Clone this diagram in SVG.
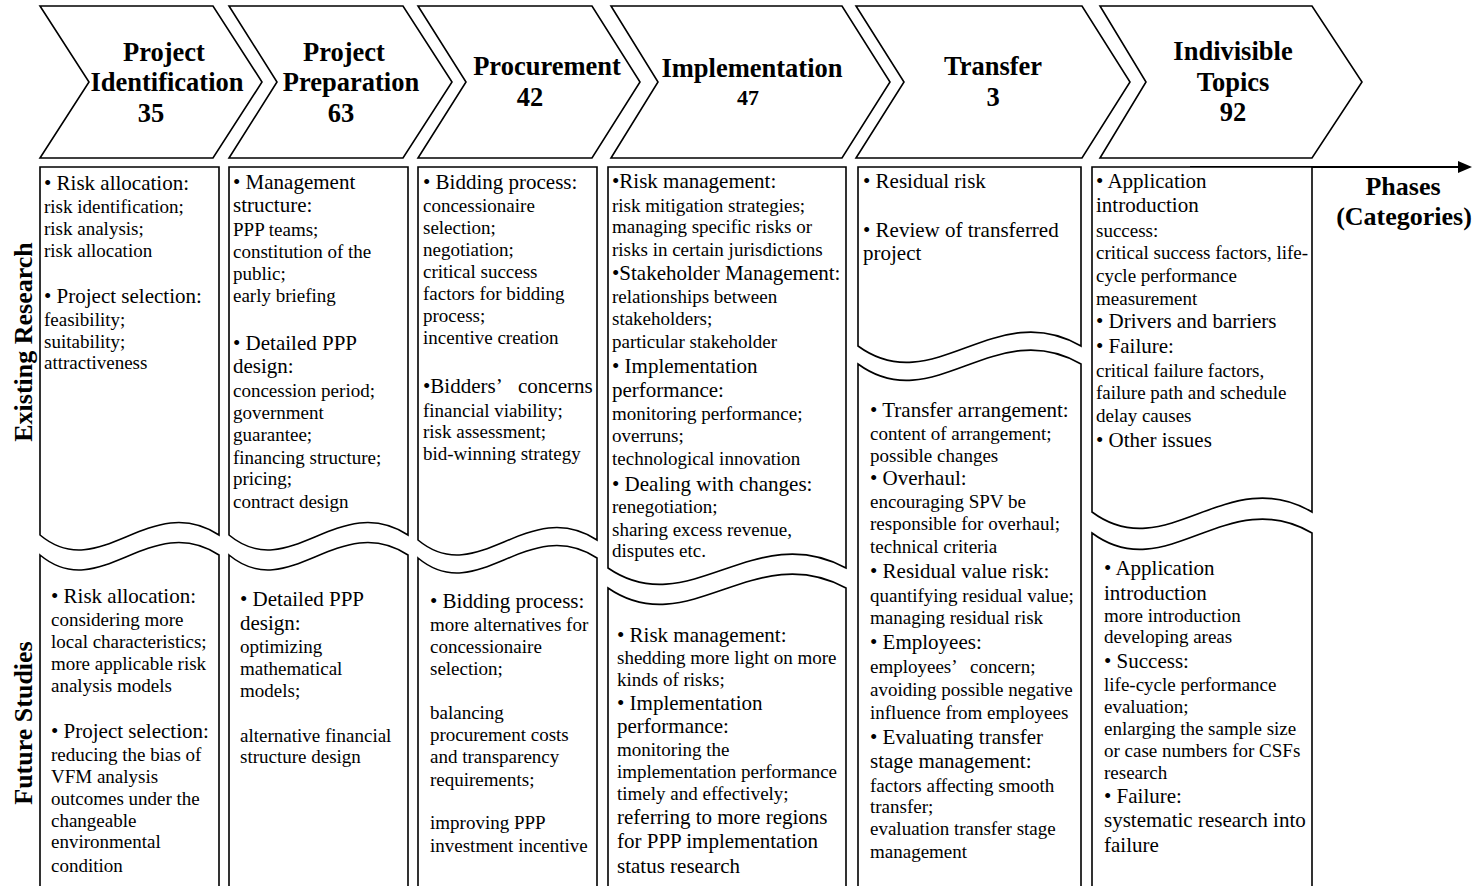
<svg xmlns="http://www.w3.org/2000/svg" width="1484" height="886" viewBox="0 0 1484 886">
<style>
text{font-family:"Liberation Serif","Times New Roman",serif;fill:#000}
.t{font-size:26.5px;font-weight:bold;text-anchor:middle}
.t2{font-size:22px;font-weight:bold;text-anchor:middle}
.lab{font-size:26px;font-weight:bold;text-anchor:middle}
.h{font-size:21px}
.s{font-size:19px}
.shape{fill:#fff;stroke:#000;stroke-width:1.6}
.conn{stroke:#000;stroke-width:2;fill:none}
</style>
<rect width="1484" height="886" fill="#fff"/>

<g id="phase-identification">
<path class="shape" d="M40,6 H213 L262,82 L213,158 H40 L89,82 Z"/>
<text class="t"><tspan x="164" y="61">Project</tspan><tspan x="167" y="91">Identification</tspan><tspan x="151" y="122">35</tspan></text>
</g>
<g id="phase-preparation">
<path class="shape" d="M229,6 H403 L452,82 L403,158 H229 L277,82 Z"/>
<text class="t"><tspan x="344" y="61">Project</tspan><tspan x="351" y="91">Preparation</tspan><tspan x="341" y="122">63</tspan></text>
</g>
<g id="phase-procurement">
<path class="shape" d="M418,6 H592 L640,82 L592,158 H418 L466,82 Z"/>
<text class="t"><tspan x="547" y="75">Procurement</tspan><tspan x="530" y="106">42</tspan></text>
</g>
<g id="phase-implementation">
<path class="shape" d="M611,6 H842 L890,82 L842,158 H611 L658,82 Z"/>
<text class="t" x="752" y="77">Implementation</text>
<text class="t2" x="748" y="105">47</text>
</g>
<g id="phase-transfer">
<path class="shape" d="M856,6 H1082 L1130,82 L1082,158 H856 L904,82 Z"/>
<text class="t"><tspan x="993" y="75">Transfer</tspan><tspan x="993" y="106">3</tspan></text>
</g>
<g id="phase-indivisible">
<path class="shape" d="M1100,6 H1312 L1362,82 L1312,158 H1100 L1146,82 Z"/>
<text class="t"><tspan x="1233" y="60">Indivisible</tspan><tspan x="1233" y="91">Topics</tspan><tspan x="1233" y="121">92</tspan></text>
</g>

<g id="row-labels">
<text class="lab" transform="translate(32,342) rotate(-90)">Existing Research</text>
<text class="lab" transform="translate(32,723) rotate(-90)">Future Studies</text>
</g>

<g id="connectors">
<line class="conn" x1="1190" y1="167" x2="1460" y2="167"/>
<polygon points="1458,161 1472,167 1458,173" fill="#000"/>
</g>
<g id="axis-label">
<text class="lab"><tspan x="1403" y="195">Phases</tspan><tspan x="1404" y="225">(Categories)</tspan></text>
</g>

<g id="existing-identification">
<path class="shape" d="M40,167 H219 V535 C150,490 100,585 40,535 Z"/>
<text>
<tspan class="h" x="44" y="190">• Risk allocation:</tspan>
<tspan class="s" x="44" y="213">risk identification;</tspan>
<tspan class="s" x="44" y="235">risk analysis;</tspan>
<tspan class="s" x="44" y="257">risk allocation</tspan>
<tspan class="h" x="44" y="303">• Project selection:</tspan>
<tspan class="s" x="44" y="326">feasibility;</tspan>
<tspan class="s" x="44" y="348">suitability;</tspan>
<tspan class="s" x="44" y="369">attractiveness</tspan>
</text>
</g>
<g id="future-identification">
<path class="shape" d="M40,890 V555 C100,605 150,510 219,555 V890"/>
<text>
<tspan class="h" x="51" y="603">• Risk allocation:</tspan>
<tspan class="s" x="51" y="626">considering more</tspan>
<tspan class="s" x="51" y="648">local characteristics;</tspan>
<tspan class="s" x="51" y="670">more applicable risk</tspan>
<tspan class="s" x="51" y="692">analysis models</tspan>
<tspan class="h" x="51" y="738">• Project selection:</tspan>
<tspan class="s" x="51" y="761">reducing the bias of</tspan>
<tspan class="s" x="51" y="783">VFM analysis</tspan>
<tspan class="s" x="51" y="805">outcomes under the</tspan>
<tspan class="s" x="51" y="827">changeable</tspan>
<tspan class="s" x="51" y="848">environmental</tspan>
<tspan class="s" x="51" y="872">condition</tspan>
</text>
</g>

<g id="existing-preparation">
<path class="shape" d="M229,167 H408 V535 C339,490 289,585 229,535 Z"/>
<text>
<tspan class="h" x="233" y="189">• Management</tspan>
<tspan class="h" x="233" y="212">structure:</tspan>
<tspan class="s" x="233" y="236">PPP teams;</tspan>
<tspan class="s" x="233" y="258">constitution of the</tspan>
<tspan class="s" x="233" y="280">public;</tspan>
<tspan class="s" x="233" y="302">early briefing</tspan>
<tspan class="h" x="233" y="350">• Detailed PPP</tspan>
<tspan class="h" x="233" y="373">design:</tspan>
<tspan class="s" x="233" y="397">concession period;</tspan>
<tspan class="s" x="233" y="419">government</tspan>
<tspan class="s" x="233" y="441">guarantee;</tspan>
<tspan class="s" x="233" y="464">financing structure;</tspan>
<tspan class="s" x="233" y="485">pricing;</tspan>
<tspan class="s" x="233" y="508">contract design</tspan>
</text>
</g>
<g id="future-preparation">
<path class="shape" d="M229,890 V555 C289,605 339,510 408,555 V890"/>
<text>
<tspan class="h" x="240" y="606">• Detailed PPP</tspan>
<tspan class="h" x="240" y="630">design:</tspan>
<tspan class="s" x="240" y="653">optimizing</tspan>
<tspan class="s" x="240" y="675">mathematical</tspan>
<tspan class="s" x="240" y="697">models;</tspan>
<tspan class="s" x="240" y="742">alternative financial</tspan>
<tspan class="s" x="240" y="763">structure design</tspan>
</text>
</g>

<g id="existing-procurement">
<path class="shape" d="M418,167 H597 V540 C528,495 478,590 418,540 Z"/>
<text>
<tspan class="h" x="423" y="189">• Bidding process:</tspan>
<tspan class="s" x="423" y="212">concessionaire</tspan>
<tspan class="s" x="423" y="234">selection;</tspan>
<tspan class="s" x="423" y="256">negotiation;</tspan>
<tspan class="s" x="423" y="278">critical success</tspan>
<tspan class="s" x="423" y="300">factors for bidding</tspan>
<tspan class="s" x="423" y="322">process;</tspan>
<tspan class="s" x="423" y="344">incentive creation</tspan>
<tspan class="h" x="423" y="393">•Bidders’</tspan><tspan class="h" x="518" y="393">concerns</tspan>
<tspan class="s" x="423" y="417">financial viability;</tspan>
<tspan class="s" x="423" y="438">risk assessment;</tspan>
<tspan class="s" x="423" y="460">bid-winning strategy</tspan>
</text>
</g>
<g id="future-procurement">
<path class="shape" d="M418,890 V558 C478,608 528,513 597,558 V890"/>
<text>
<tspan class="h" x="430" y="608">• Bidding process:</tspan>
<tspan class="s" x="430" y="631">more alternatives for</tspan>
<tspan class="s" x="430" y="653">concessionaire</tspan>
<tspan class="s" x="430" y="675">selection;</tspan>
<tspan class="s" x="430" y="719">balancing</tspan>
<tspan class="s" x="430" y="741">procurement costs</tspan>
<tspan class="s" x="430" y="763">and transparency</tspan>
<tspan class="s" x="430" y="786">requirements;</tspan>
<tspan class="s" x="430" y="829">improving PPP</tspan>
<tspan class="s" x="430" y="852">investment incentive</tspan>
</text>
</g>

<g id="existing-implementation">
<path class="shape" d="M608,167 H846 V568 C754,518 688,623 608,568 Z"/>
<text>
<tspan class="h" x="612" y="188">•Risk management:</tspan>
<tspan class="s" x="612" y="212">risk mitigation strategies;</tspan>
<tspan class="s" x="612" y="233">managing specific risks or</tspan>
<tspan class="s" x="612" y="256">risks in certain jurisdictions</tspan>
<tspan class="h" x="612" y="280">•Stakeholder Management:</tspan>
<tspan class="s" x="612" y="303">relationships between</tspan>
<tspan class="s" x="612" y="325">stakeholders;</tspan>
<tspan class="s" x="612" y="348">particular stakeholder</tspan>
<tspan class="h" x="612" y="373">• Implementation</tspan>
<tspan class="h" x="612" y="397">performance:</tspan>
<tspan class="s" x="612" y="420">monitoring performance;</tspan>
<tspan class="s" x="612" y="442">overruns;</tspan>
<tspan class="s" x="612" y="465">technological innovation</tspan>
<tspan class="h" x="612" y="491">• Dealing with changes:</tspan>
<tspan class="s" x="612" y="513">renegotiation;</tspan>
<tspan class="s" x="612" y="536">sharing excess revenue,</tspan>
<tspan class="s" x="612" y="557">disputes etc.</tspan>
</text>
</g>
<g id="future-implementation">
<path class="shape" d="M608,890 V588 C688,643 754,538 846,588 V890"/>
<text>
<tspan class="h" x="617" y="642">• Risk management:</tspan>
<tspan class="s" x="617" y="664">shedding more light on more</tspan>
<tspan class="s" x="617" y="686">kinds of risks;</tspan>
<tspan class="h" x="617" y="710">• Implementation</tspan>
<tspan class="h" x="617" y="733">performance:</tspan>
<tspan class="s" x="617" y="756">monitoring the</tspan>
<tspan class="s" x="617" y="778">implementation performance</tspan>
<tspan class="s" x="617" y="800">timely and effectively;</tspan>
<tspan class="h" x="617" y="824">referring to more regions</tspan>
<tspan class="h" x="617" y="848">for PPP implementation</tspan>
<tspan class="h" x="617" y="873">status research</tspan>
</text>
</g>

<g id="existing-transfer">
<path class="shape" d="M858,167 H1081 V346 C995,296 933,401 858,346 Z"/>
<text>
<tspan class="h" x="863" y="188">• Residual risk</tspan>
<tspan class="h" x="863" y="237">• Review of transferred</tspan>
<tspan class="h" x="863" y="260">project</tspan>
</text>
</g>
<g id="future-transfer">
<path class="shape" d="M858,890 V364 C933,419 995,314 1081,364 V890"/>
<text>
<tspan class="h" x="870" y="417">• Transfer arrangement:</tspan>
<tspan class="s" x="870" y="440">content of arrangement;</tspan>
<tspan class="s" x="870" y="462">possible changes</tspan>
<tspan class="h" x="870" y="485">• Overhaul:</tspan>
<tspan class="s" x="870" y="508">encouraging SPV be</tspan>
<tspan class="s" x="870" y="530">responsible for overhaul;</tspan>
<tspan class="s" x="870" y="553">technical criteria</tspan>
<tspan class="h" x="870" y="578">• Residual value risk:</tspan>
<tspan class="s" x="870" y="602">quantifying residual value;</tspan>
<tspan class="s" x="870" y="624">managing residual risk</tspan>
<tspan class="h" x="870" y="649">• Employees:</tspan>
<tspan class="s" x="870" y="673">employees’</tspan><tspan class="s" x="970" y="673">concern;</tspan>
<tspan class="s" x="870" y="696">avoiding possible negative</tspan>
<tspan class="s" x="870" y="719">influence from employees</tspan>
<tspan class="h" x="870" y="744">• Evaluating transfer</tspan>
<tspan class="h" x="870" y="768">stage management:</tspan>
<tspan class="s" x="870" y="792">factors affecting smooth</tspan>
<tspan class="s" x="870" y="813">transfer;</tspan>
<tspan class="s" x="870" y="835">evaluation transfer stage</tspan>
<tspan class="s" x="870" y="858">management</tspan>
</text>
</g>

<g id="existing-indivisible">
<path class="shape" d="M1092,167 H1312 V512 C1227,462 1166,567 1092,512 Z"/>
<text>
<tspan class="h" x="1096" y="188">• Application</tspan>
<tspan class="h" x="1096" y="212">introduction</tspan>
<tspan class="s" x="1096" y="237">success:</tspan>
<tspan class="s" x="1096" y="259">critical success factors, life-</tspan>
<tspan class="s" x="1096" y="282">cycle performance</tspan>
<tspan class="s" x="1096" y="305">measurement</tspan>
<tspan class="h" x="1096" y="328">• Drivers and barriers</tspan>
<tspan class="h" x="1096" y="353">• Failure:</tspan>
<tspan class="s" x="1096" y="377">critical failure factors,</tspan>
<tspan class="s" x="1096" y="399">failure path and schedule</tspan>
<tspan class="s" x="1096" y="422">delay causes</tspan>
<tspan class="h" x="1096" y="447">• Other issues</tspan>
</text>
</g>
<g id="future-indivisible">
<path class="shape" d="M1092,890 V533 C1166,588 1227,483 1312,533 V890"/>
<text>
<tspan class="h" x="1104" y="575">• Application</tspan>
<tspan class="h" x="1104" y="600">introduction</tspan>
<tspan class="s" x="1104" y="622">more introduction</tspan>
<tspan class="s" x="1104" y="643">developing areas</tspan>
<tspan class="h" x="1104" y="668">• Success:</tspan>
<tspan class="s" x="1104" y="691">life-cycle performance</tspan>
<tspan class="s" x="1104" y="713">evaluation;</tspan>
<tspan class="s" x="1104" y="735">enlarging the sample size</tspan>
<tspan class="s" x="1104" y="757">or case numbers for CSFs</tspan>
<tspan class="s" x="1104" y="779">research</tspan>
<tspan class="h" x="1104" y="803">• Failure:</tspan>
<tspan class="h" x="1104" y="827">systematic research into</tspan>
<tspan class="h" x="1104" y="852">failure</tspan>
</text>
</g>
</svg>
